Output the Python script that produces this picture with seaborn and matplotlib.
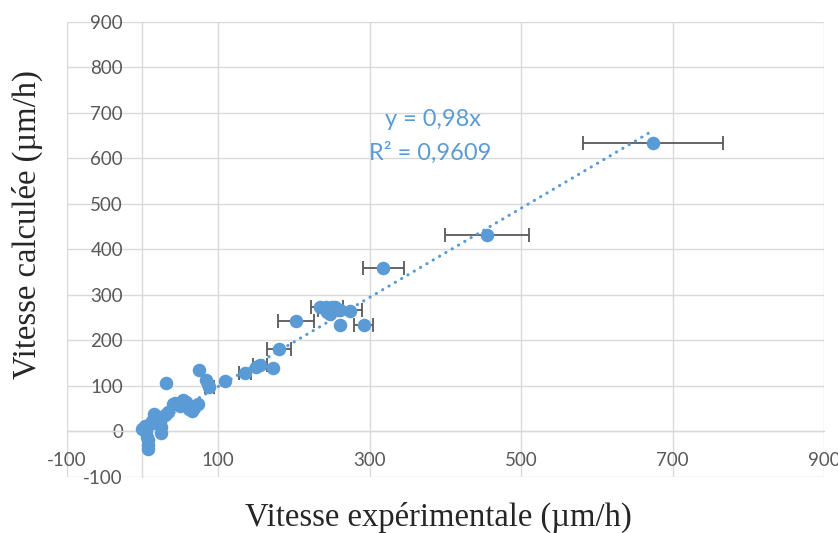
import numpy as np
import pandas as pd
import seaborn as sns
import matplotlib.pyplot as plt

# experimental vs calculated speed (µm/h)
exp_speed = [0, 3, 5, 6, 7, 8, 8, 10, 12, 15, 20, 23, 25, 25, 30, 34, 40, 43, 50, 54,
             58, 62, 65, 68, 74, 31, 75, 84, 86, 88, 109, 135, 150, 155, 173, 180,
             203, 234, 242, 250, 254, 244, 248, 261, 274, 261, 292, 318, 455, 674]
calc_speed = [5, 12, 0, -12, -20, -30, -40, 15, 22, 38, 30, 20, 10, -5, 35, 43, 60, 63, 55, 68,
              65, 48, 45, 52, 60, 107, 134, 113, 103, 98, 111, 127, 142, 145, 138, 181,
              242, 272, 274, 274, 272, 263, 258, 266, 264, 233, 233, 358, 431, 633]

# points carrying a horizontal error bar
bar_x = [674, 455, 318, 244, 261, 203, 292, 180, 155, 135, 88]
bar_y = [633, 431, 358, 272, 266, 242, 233, 181, 145, 127, 98]
bar_err = [92, 55, 27, 21, 29, 23.5, 13, 16, 9.5, 8, 6]

slope = 0.98
r2 = "0,9609"

xticks = [-100, 100, 300, 500, 700, 900]
yticks = list(range(-100, 1000, 100))

blue = "#5b9bd5"
grid = "#d9d9d9"

df = pd.DataFrame({"exp": exp_speed, "calc": calc_speed})

sns.set_theme(style="white")
plt.rcParams["font.family"] = ["Lato", "DejaVu Sans"]
plt.rcParams["axes.unicode_minus"] = False

W, H = 838, 533
fig = plt.figure(figsize=(W / 100, H / 100), dpi=100)
ax = fig.add_axes([66.7 / W, (H - 476.7) / H, (824 - 66.7) / W, (476.7 - 21.7) / H])

ax.errorbar(bar_x, bar_y, xerr=bar_err, fmt="none", ecolor="#595959",
            elinewidth=1.3, capsize=5, capthick=1.3, zorder=2)
sns.scatterplot(data=df, x="exp", y="calc", ax=ax, color=blue, s=95,
                linewidth=0, zorder=3)

xs = np.array([min(exp_speed), max(exp_speed)])
ax.plot(xs, slope * xs, color=blue, lw=2.2, linestyle=(0, (0.1, 2.3)),
        dash_capstyle="round", zorder=4)

ax.set_xlim(-100, 900)
ax.set_ylim(-100, 900)
ax.set_xticks(xticks)
ax.set_yticks(yticks)
ax.grid(True, color=grid, lw=1.0)
for ln in ax.get_xgridlines() + ax.get_ygridlines():
    ln.set_clip_on(False)

for s in ["top", "right"]:
    ax.spines[s].set_visible(False)
ax.spines["left"].set_position(("data", 0))
ax.spines["bottom"].set_position(("data", 0))
for s in ["left", "bottom"]:
    ax.spines[s].set_color(grid)
    ax.spines[s].set_linewidth(1.0)

ax.tick_params(length=0, labelsize=13.5, labelcolor="#595959")
ax.tick_params(axis="x", pad=15)
ax.tick_params(axis="y", pad=14)
ax.set_xlabel("")
ax.set_ylabel("")

fig.text(438 / W, 1 - 517 / H, "Vitesse expérimentale (µm/h)", ha="center", va="center",
         family="Liberation Serif", fontsize=23.5)
fig.text(27 / W, 1 - 225 / H, "Vitesse calculée (µm/h)", ha="center", va="center",
         rotation=90, family="Liberation Serif", fontsize=23.5)

fig.text(433 / W, 1 - 120 / H, "y = 0,98x", ha="center", va="center",
         color=blue, fontsize=17)
fig.text(430 / W, 1 - 153 / H, "R² = " + r2, ha="center", va="center",
         color=blue, fontsize=17)

fig.savefig("out.png", dpi=100)
